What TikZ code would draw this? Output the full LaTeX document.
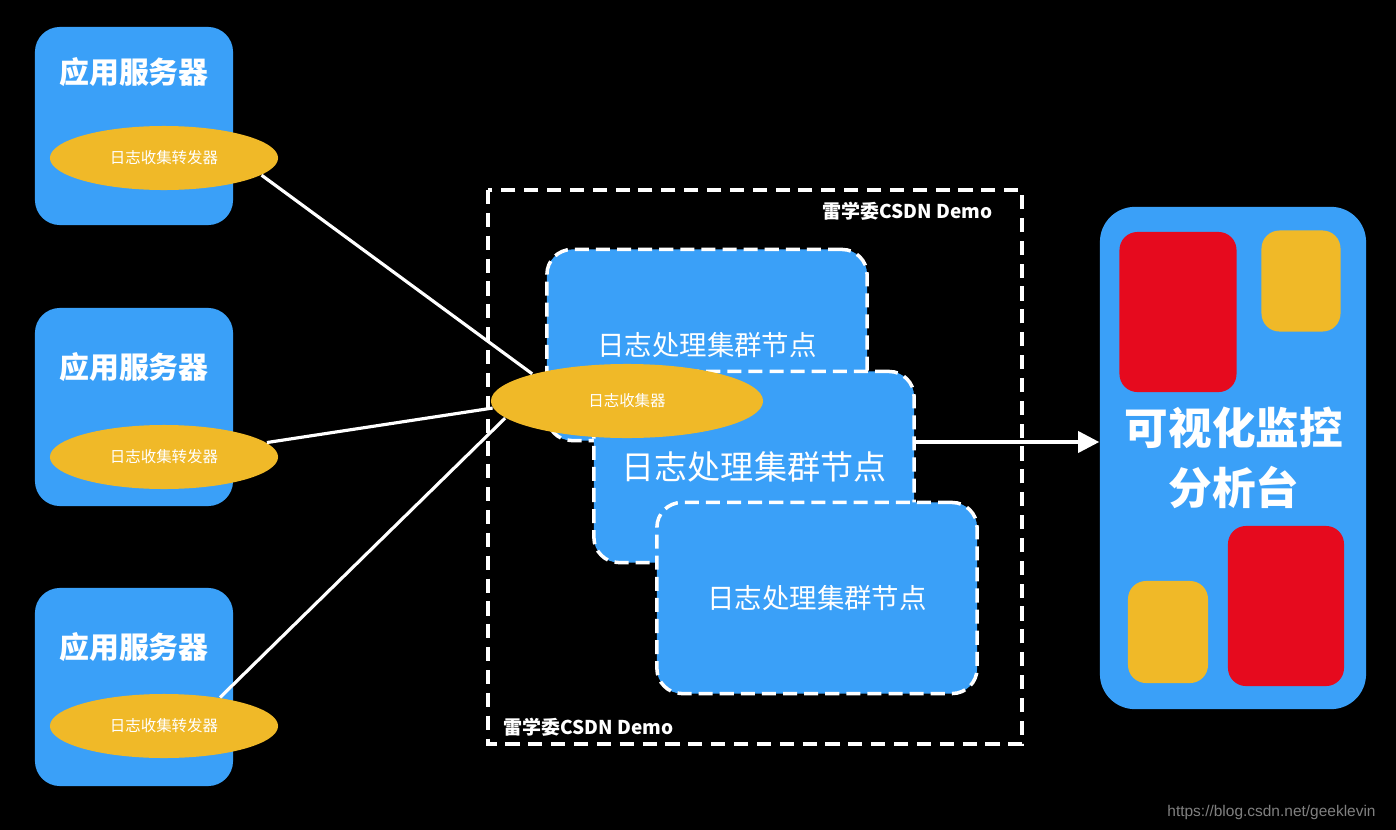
\documentclass[tikz,border=0pt]{standalone}
\usepackage{fontspec}
\setmainfont{Noto Sans CJK SC}
\setsansfont{Liberation Sans}
\usetikzlibrary{shapes.geometric,arrows.meta}
\definecolor{appblue}{HTML}{3AA0F8}
\definecolor{loggold}{HTML}{F0B928}
\definecolor{panelred}{HTML}{E60A1E}
\tikzset{
  server/.style={fill=appblue,rounded corners=0.25cm,minimum width=1.98cm,minimum height=1.98cm,inner sep=0pt},
  title/.style={text=white,font=\fontsize{8.5}{10}\selectfont\bfseries},
  forwarder/.style={ellipse,fill=loggold,minimum width=2.28cm,minimum height=0.64cm,inner sep=0pt,text=white,font=\fontsize{4.4}{5}\selectfont},
  cluster/.style={fill=appblue,draw=white,dash pattern=on 4pt off 2pt,line width=1pt,rounded corners=0.25cm,minimum width=3.2cm,minimum height=1.91cm,text=white},
  demo/.style={text=white,font=\fontsize{5.4}{6}\selectfont\bfseries,inner sep=0pt},
  link/.style={white,line width=0.9pt},
  tile/.style={rounded corners=0.18cm,inner sep=0pt}
}
\begin{document}
\begin{tikzpicture}[x=0.01cm,y=-0.01cm]
  \fill[black] (0,0) rectangle (1396,830);
  \useasboundingbox (0,0) rectangle (1396,830);

  % servers
  \foreach \i/\y/\t in {a/126/72,b/407/367,c/687/647} {
    \node[server] (srv\i) at (134,\y) {};
    \node[title] (srv\i title) at (134,\t) {应用服务器};
  }
  \node[forwarder] (fwda) at (164,158) {日志收集转发器};
  \node[forwarder] (fwdb) at (164,457) {日志收集转发器};
  \node[forwarder] (fwdc) at (164,726) {日志收集转发器};

  % cluster frame
  \draw[white,line width=1pt,dash pattern=on 4pt off 2.5pt] (488,190) rectangle (1022,744);
  \node[demo,anchor=east] (demotop) at (993,211) {雷学委CSDN Demo};
  \node[demo,anchor=west] (demobot) at (503,727) {雷学委CSDN Demo};

  \node[cluster,font=\fontsize{7.8}{9}\selectfont] (nodea) at (707,345) {日志处理集群节点};
  \node[cluster,font=\fontsize{9.4}{11}\selectfont] (nodeb) at (754,467) {日志处理集群节点};
  \node[cluster,font=\fontsize{7.8}{9}\selectfont] (nodec) at (817,598) {日志处理集群节点};

  \node[forwarder,minimum width=2.72cm,minimum height=0.74cm] (collector) at (627,401) {日志收集器};

  \draw[link] (fwda.-10) -- (collector.164);
  \draw[link] (fwdb.8) -- (collector.183);
  \draw[link] (fwdc.27) -- (collector.188);

  % dashboard
  \node[fill=appblue,rounded corners=0.35cm,minimum width=2.66cm,minimum height=5.02cm,inner sep=0pt] (panel) at (1233,458) {};
  \node[tile,fill=panelred,minimum width=1.17cm,minimum height=1.6cm] (tilea) at (1178,312) {};
  \node[tile,fill=loggold,minimum width=0.79cm,minimum height=1.01cm] (tileb) at (1301,281) {};
  \node[tile,fill=loggold,minimum width=0.8cm,minimum height=1.02cm] (tilec) at (1168,632) {};
  \node[tile,fill=panelred,minimum width=1.16cm,minimum height=1.6cm] (tiled) at (1286,606) {};
  \node[text=white,align=center,font=\fontsize{12.4}{17}\selectfont\bfseries] (paneltext) at (1234,458) {可视化监控\\分析台};

  \coordinate (arrowstart) at (915,442);
  \draw[white,line width=1pt,-{Triangle[length=6pt,width=6pt]}] (arrowstart) -- (panel.west |- arrowstart);

  \node[text=gray,font=\sffamily\fontsize{4.4}{5}\selectfont,anchor=east] (mark) at (1388,812) {https://blog.csdn.net/geeklevin};
\end{tikzpicture}
\end{document}
